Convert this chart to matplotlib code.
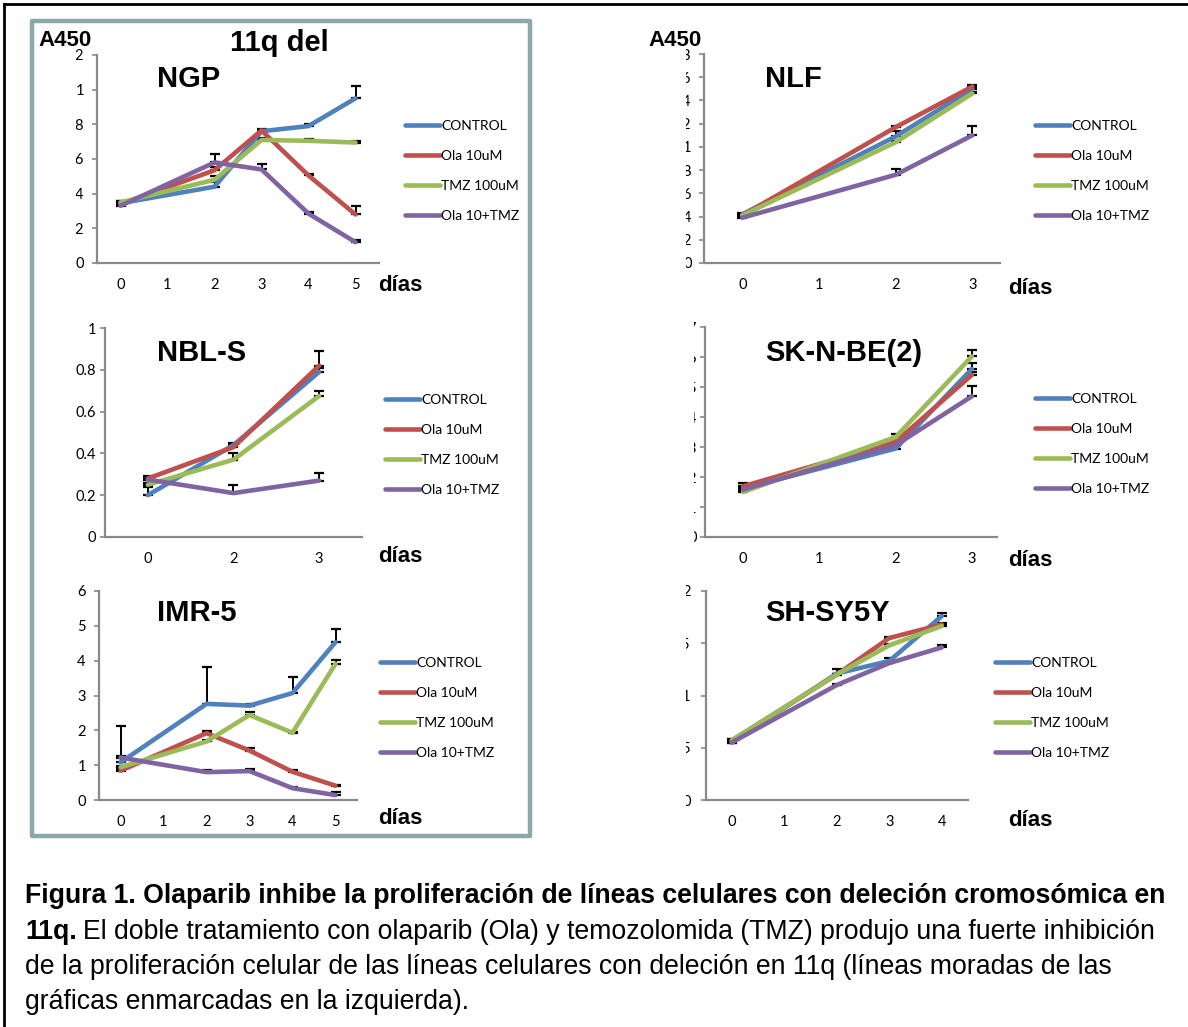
import matplotlib.pyplot as plt
from matplotlib.patches import Rectangle
from matplotlib.lines import Line2D
from matplotlib.transforms import Bbox, TransformedBbox

W, H = 1188, 1027

series_names = ['CONTROL', 'Ola 10uM', 'TMZ 100uM', 'Ola 10+TMZ']
colors = ['#4F81BD', '#C0504D', '#9BBB59', '#8064A2']

# NGP
ngp_cats = ['0', '1', '2', '3', '4', '5']
ngp_dias = [0, 2, 3, 4, 5]
ngp_control = [0.345, 0.44, 0.76, 0.79, 0.95]
ngp_ola = [0.34, 0.535, 0.765, 0.505, 0.28]
ngp_tmz = [0.35, 0.48, 0.71, 0.705, 0.695]
ngp_combo = [0.33, 0.58, 0.54, 0.285, 0.12]
ngp_err = [[0.01, 0.03, 0.01, 0.01, 0.07],
           [0.01, 0.02, 0.01, 0.01, 0.05],
           [0.01, 0.02, 0.01, 0.01, 0.01],
           [0.01, 0.05, 0.03, 0.01, 0.01]]
ngp_yticks = [0, 0.2, 0.4, 0.6, 0.8, 1, 1.2]
ngp_ylabels = ['0', '0.2', '0.4', '0.6', '0.8', '1', '1.2']

# NLF
nlf_cats = ['0', '1', '2', '3']
nlf_dias = [0, 2, 3]
nlf_control = [0.42, 1.09, 1.50]
nlf_ola = [0.41, 1.17, 1.52]
nlf_tmz = [0.41, 1.04, 1.46]
nlf_combo = [0.39, 0.76, 1.10]
nlf_err = [[0.01, 0.045, 0.02],
           [0.01, 0.01, 0.01],
           [0.01, 0.01, 0.01],
           [0.01, 0.05, 0.08]]
nlf_yticks = [0, 0.2, 0.4, 0.6, 0.8, 1, 1.2, 1.4, 1.6, 1.8]
nlf_ylabels = ['0', '0.2', '0.4', '0.6', '0.8', '1', '1.2', '1.4', '1.6', '1.8']

# NBL-S
nbl_cats = ['0', '2', '3']
nbl_dias = [0, 2, 3]
nbl_control = [0.20, 0.44, 0.79]
nbl_ola = [0.28, 0.43, 0.82]
nbl_tmz = [0.25, 0.37, 0.675]
nbl_combo = [0.275, 0.21, 0.27]
nbl_err = [[0.04, 0.01, 0.02],
           [0.01, 0.01, 0.07],
           [0.01, 0.03, 0.025],
           [0.01, 0.04, 0.035]]
nbl_yticks = [0, 0.2, 0.4, 0.6, 0.8, 1]
nbl_ylabels = ['0', '0.2', '0.4', '0.6', '0.8', '1']

# SK-N-BE(2)
sk_cats = ['0', '1', '2', '3']
sk_dias = [0, 2, 3]
sk_control = [0.161, 0.295, 0.56]
sk_ola = [0.169, 0.317, 0.54]
sk_tmz = [0.15, 0.333, 0.602]
sk_combo = [0.158, 0.306, 0.469]
sk_err = [[0.01, 0.01, 0.02],
          [0.01, 0.01, 0.01],
          [0.01, 0.01, 0.023],
          [0.01, 0.01, 0.033]]
sk_yticks = [0, 0.1, 0.2, 0.3, 0.4, 0.5, 0.6, 0.7]
sk_ylabels = ['0', '0.1', '0.2', '0.3', '0.4', '0.5', '0.6', '0.7']

# IMR-5
imr_cats = ['0', '1', '2', '3', '4', '5']
imr_dias = [0, 2, 3, 4, 5]
imr_control = [1.08, 2.76, 2.71, 3.07, 4.53]
imr_ola = [0.84, 1.92, 1.42, 0.81, 0.41]
imr_tmz = [0.94, 1.68, 2.44, 1.93, 3.91]
imr_combo = [1.22, 0.80, 0.83, 0.34, 0.14]
imr_err = [[1.05, 1.05, 0.05, 0.46, 0.37],
           [0.05, 0.05, 0.06, 0.05, 0.03],
           [0.05, 0.05, 0.10, 0.03, 0.11],
           [0.05, 0.06, 0.05, 0.03, 0.08]]
imr_yticks = [0, 1, 2, 3, 4, 5, 6]
imr_ylabels = ['0', '1', '2', '3', '4', '5', '6']

# SH-SY5Y
sh_cats = ['0', '1', '2', '3', '4']
sh_dias = [0, 2, 3, 4]
sh_control = [0.55, 1.21, 1.33, 1.76]
sh_ola = [0.57, 1.20, 1.55, 1.68]
sh_tmz = [0.57, 1.20, 1.48, 1.665]
sh_combo = [0.55, 1.10, 1.31, 1.46]
sh_err = [[0.01, 0.04, 0.03, 0.03],
          [0.01, 0.01, 0.01, 0.01],
          [0.01, 0.01, 0.01, 0.01],
          [0.01, 0.01, 0.01, 0.02]]
sh_yticks = [0, 0.5, 1, 1.5, 2]
sh_ylabels = ['0', '0.5', '1', '1.5', '2']

fig = plt.figure(figsize=(W / 100, H / 100), dpi=100)
TICKFONT = 'Lato'
BOLDFONT = 'Liberation Sans'


def ptext(x, y, s, **kw):
    return fig.text(x / W, 1 - y / H, s, **kw)


def panel(box, cats, dias, series, errs, yticks, ylabels, xlim, title, title_xy,
          dias_xy, legend_xy, clip_x=None, ypad=5):
    left, top, right, bottom = box
    ax = fig.add_axes([left / W, 1 - bottom / H, (right - left) / W, (bottom - top) / H])
    xs = [cats.index(str(d)) for d in dias]
    handles = []
    for vals, err, name, c in zip(series, errs, series_names, colors):
        ax.errorbar(xs, vals, yerr=[[0] * len(err), err], fmt='none', ecolor='black',
                    elinewidth=1.4, capsize=3.5, capthick=1.6, zorder=2)
        ln, = ax.plot(xs, vals, color=c, lw=3.3, solid_capstyle='round',
                      solid_joinstyle='round', label=name, zorder=3)
        handles.append(ln)
    ax.set_xlim(*xlim)
    ax.set_ylim(yticks[0], yticks[-1])
    ax.set_xticks(range(len(cats)))
    ax.set_xticklabels(cats, fontfamily=TICKFONT, fontsize=10.5)
    ax.set_yticks(yticks)
    ax.set_yticklabels(ylabels, fontfamily=TICKFONT, fontsize=10.5)
    ax.tick_params(axis='x', length=0, pad=11)
    ax.tick_params(axis='y', length=3.5, width=1.2, color='#898989', direction='out', pad=ypad)
    for s in ['top', 'right']:
        ax.spines[s].set_visible(False)
    for s in ['left', 'bottom']:
        ax.spines[s].set_color('#898989')
        ax.spines[s].set_linewidth(1.6)
    ax.patch.set_alpha(0)
    if clip_x is not None:
        # las etiquetas del eje y salen recortadas en la figura original
        cb = TransformedBbox(Bbox([[clip_x / W, 0], [1, 1]]), fig.transFigure)
        for t in ax.get_yticklabels():
            t.set_clip_on(True)
            t.set_clip_box(cb)
    ptext(*title_xy, title, fontfamily=BOLDFONT, fontweight='bold', fontsize=21,
          ha='left', va='center')
    ptext(*dias_xy, 'días', fontfamily=BOLDFONT, fontweight='bold', fontsize=16,
          ha='left', va='center')
    ax.legend(handles=handles, loc='upper left',
              bbox_to_anchor=(legend_xy[0] / W, 1 - legend_xy[1] / H),
              bbox_transform=fig.transFigure, frameon=False, borderpad=0,
              borderaxespad=0, handlelength=2.5, handletextpad=0.1,
              labelspacing=1.3, prop={'family': TICKFONT, 'size': 10})
    return ax


panel((97, 55, 379, 263), ngp_cats, ngp_dias,
      [ngp_control, ngp_ola, ngp_tmz, ngp_combo], ngp_err, ngp_yticks, ngp_ylabels,
      (-0.5, 5.5), 'NGP', (157, 79), (378, 286), (405, 120), clip_x=76, ypad=6)
panel((105, 328, 362, 537), nbl_cats, nbl_dias,
      [nbl_control, nbl_ola, nbl_tmz, nbl_combo], nbl_err, nbl_yticks, nbl_ylabels,
      (-0.5, 2.5), 'NBL-S', (157, 353), (378, 557), (385, 394), ypad=3)
panel((99, 591, 357, 800), imr_cats, imr_dias,
      [imr_control, imr_ola, imr_tmz, imr_combo], imr_err, imr_yticks, imr_ylabels,
      (-0.5, 5.5), 'IMR-5', (157, 613), (378, 818), (380, 657), ypad=6)
panel((704, 54, 1000, 263), nlf_cats, nlf_dias,
      [nlf_control, nlf_ola, nlf_tmz, nlf_combo], nlf_err, nlf_yticks, nlf_ylabels,
      (-0.5, 3.36), 'NLF', (765, 79), (1008, 289), (1035, 120), clip_x=686, ypad=5.5)
panel((705, 327, 997, 537), sk_cats, sk_dias,
      [sk_control, sk_ola, sk_tmz, sk_combo], sk_err, sk_yticks, sk_ylabels,
      (-0.5, 3.33), 'SK-N-BE(2)', (765, 353), (1008, 560), (1035, 393), clip_x=694, ypad=2)
panel((706, 591, 968, 800), sh_cats, sh_dias,
      [sh_control, sh_ola, sh_tmz, sh_combo], sh_err, sh_yticks, sh_ylabels,
      (-0.49, 4.5), 'SH-SY5Y', (765, 613), (1008, 821), (995, 657), clip_x=686, ypad=7.5)

# labels comunes
ptext(38, 40, 'A450', fontfamily=BOLDFONT, fontweight='bold', fontsize=16, va='center')
ptext(648, 40, 'A450', fontfamily=BOLDFONT, fontweight='bold', fontsize=16, va='center')
ptext(230, 43, '11q del', fontfamily=BOLDFONT, fontweight='bold', fontsize=21, va='center')

# marco de las lineas 11q
fig.add_artist(Rectangle((32 / W, 1 - 836 / H), 498 / W, 815 / H, transform=fig.transFigure,
                         fill=False, edgecolor='#8CA8AB', lw=3.2, joinstyle='round'))
# borde exterior
fig.add_artist(Line2D([4 / W, 4 / W], [0, 1 - 4 / H], transform=fig.transFigure,
                      color='black', lw=2))
fig.add_artist(Line2D([4 / W, 1], [1 - 4 / H, 1 - 4 / H], transform=fig.transFigure,
                      color='black', lw=2))

# pie de figura
cap_kw = dict(fontfamily=BOLDFONT, fontsize=19.2, va='center', ha='left')
ptext(25, 896, 'Figura 1. Olaparib inhibe la proliferación de líneas celulares con deleción '
      'cromosómica en', fontweight='bold', **cap_kw)
t = ptext(25, 932, '11q.', fontweight='bold', **cap_kw)
fig.canvas.draw()
bb = t.get_window_extent(fig.canvas.get_renderer())
ptext(bb.x1 + 6, 932, 'El doble tratamiento con olaparib (Ola) y temozolomida (TMZ) produjo '
      'una fuerte inhibición', **cap_kw)
ptext(25, 967, 'de la proliferación celular de las líneas celulares con deleción en 11q '
      '(líneas moradas de las', **cap_kw)
ptext(25, 1002, 'gráficas enmarcadas en la izquierda).', **cap_kw)

fig.savefig('out.png', dpi=100)
